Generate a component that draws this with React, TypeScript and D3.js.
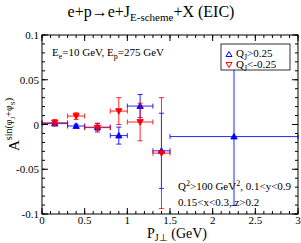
import React from "react";
import * as d3 from "d3";

const binCenter = [0.15, 0.4, 0.65, 0.9, 1.15, 1.4, 2.25];
const binLo = [0, 0.3, 0.5, 0.8, 1.0, 1.3, 1.5];
const binHi = [0.3, 0.5, 0.8, 1.0, 1.3, 1.5, 3.0];
const blueY = [0.001, -0.0017, -0.003, -0.0124, 0.0206, -0.0294, -0.0135];
const blueErr = [0.002, 0.002, 0.004, 0.0095, 0.013, 0.042, 0.077];
const redY = [0.002, 0.0094, -0.0035, 0.015, 0.0028, -0.032];
const redErr = [0.0035, 0.0037, 0.005, 0.015, 0.021, 0.062];
const xTickLabels = ["0", "0.5", "1", "1.5", "2", "2.5", "3"];
const yTickValues = [0.1, 0.05, 0, -0.05, -0.1];
const yTickLabels = ["0.1", "0.05", "0", "-0.05", "-0.1"];

const W = 301, H = 243;
const L = 42, R = 298, T = 35, B = 214;
const FONT = "'Liberation Serif', 'Times New Roman', serif";

export default function App() {
  const x = d3.scaleLinear().domain([0, 3]).range([L, R]);
  const y = d3.scaleLinear().domain([-0.1, 0.1]).range([B, T]);
  const xMinor = d3.range(0, 3.0001, 0.1);
  const xMajor = d3.range(0, 3.0001, 0.5);
  const yMinor = d3.range(-0.1, 0.10001, 0.01);
  const yMajorVals = d3.range(-0.1, 0.10001, 0.05);
  const maj = 6, mnr = 3;
  const cap = 2.5;

  const series = (vals: number[], errs: number[], color: string, up: boolean) =>
    vals.map((v, i) => {
      const cx = x(binCenter[i]);
      const cy = y(v);
      const x0 = x(binLo[i]);
      const x1 = x(binHi[i]);
      const y0 = y(v - errs[i]);
      const y1 = y(v + errs[i]);
      const s = 3.2;
      const tri = up
        ? `M${cx},${cy - s} L${cx + s},${cy + s * 0.75} L${cx - s},${cy + s * 0.75}Z`
        : `M${cx},${cy + s} L${cx + s},${cy - s * 0.75} L${cx - s},${cy - s * 0.75}Z`;
      return (
        <g key={color + i} stroke={color} strokeWidth={1} fill="none" strokeOpacity={0.85}>
          <line x1={x0} x2={x1} y1={cy} y2={cy} />
          <line x1={x0} x2={x0} y1={cy - cap} y2={cy + cap} />
          <line x1={x1} x2={x1} y1={cy - cap} y2={cy + cap} />
          <line x1={cx} x2={cx} y1={y0} y2={y1} />
          <line x1={cx - cap} x2={cx + cap} y1={y0} y2={y0} />
          <line x1={cx - cap} x2={cx + cap} y1={y1} y2={y1} />
          <path d={tri} fill={color} />
        </g>
      );
    });

  return (
    <svg width={W} height={H} style={{ position: "absolute", left: 0, top: 0, background: "#fff" }}
      fontFamily={FONT}>
      <rect x={0} y={0} width={W} height={H} fill="#fff" />
      {/* Title */}
      <text x={151} y={17} textAnchor="middle" fontSize={16}>
        e+p→e+J<tspan fontSize={11} dy={4}>E-scheme</tspan><tspan dy={-4}>+X (EIC)</tspan>
      </text>

      {/* data */}
      {series(blueY, blueErr, "#0000ff", true)}
      {series(redY, redErr, "#ff0000", false)}

      {/* frame */}
      <rect x={L} y={T} width={R - L} height={B - T} fill="none" stroke="#000" strokeWidth={1} />
      {xMinor.map((v, i) => (
        <g key={"xm" + i} stroke="#000">
          <line x1={x(v)} x2={x(v)} y1={B} y2={B - mnr} />
          <line x1={x(v)} x2={x(v)} y1={T} y2={T + mnr} />
        </g>
      ))}
      {xMajor.map((v, i) => (
        <g key={"xM" + i} stroke="#000">
          <line x1={x(v)} x2={x(v)} y1={B} y2={B - maj} />
          <line x1={x(v)} x2={x(v)} y1={T} y2={T + maj} />
        </g>
      ))}
      {yMinor.map((v, i) => (
        <g key={"ym" + i} stroke="#000">
          <line x1={L} x2={L + mnr} y1={y(v)} y2={y(v)} />
          <line x1={R} x2={R - mnr} y1={y(v)} y2={y(v)} />
        </g>
      ))}
      {yMajorVals.map((v, i) => (
        <g key={"yM" + i} stroke="#000">
          <line x1={L} x2={L + maj} y1={y(v)} y2={y(v)} />
          <line x1={R} x2={R - maj} y1={y(v)} y2={y(v)} />
        </g>
      ))}
      {xTickLabels.map((t, i) => (
        <text key={"xl" + i} x={x(xMajor[i])} y={B + 10} textAnchor="middle" fontSize={11}>{t}</text>
      ))}
      {yTickValues.map((v, i) => (
        <text key={"yl" + i} x={L - 3} y={y(v) + 4} textAnchor="end" fontSize={11}>{yTickLabels[i]}</text>
      ))}

      {/* axis labels */}
      <text x={177} y={238} textAnchor="middle" fontSize={14}>
        P<tspan fontSize={10} dy={3}>J⊥</tspan><tspan dy={-3}> (GeV)</tspan>
      </text>
      <g transform={`translate(19,${y(0)}) rotate(-90)`}>
        <text x={0} y={0} textAnchor="middle" fontSize={15}>
          A<tspan fontSize={10} dy={-7}>sin(φ</tspan><tspan fontSize={7} dy={3}>J</tspan><tspan fontSize={10} dy={-3}>+φ</tspan><tspan fontSize={7} dy={3}>S</tspan><tspan fontSize={10} dy={-3}>)</tspan>
        </text>
      </g>

      {/* annotations */}
      <text x={52} y={56} fontSize={11}>
        E<tspan fontSize={8} dy={3}>e</tspan><tspan dy={-3}>=10 GeV, E</tspan><tspan fontSize={8} dy={3}>p</tspan><tspan dy={-3}>=275 GeV</tspan>
      </text>
      <text x={178} y={190} fontSize={11}>
        Q<tspan fontSize={8} dy={-4}>2</tspan><tspan dy={4}>&gt;100 GeV</tspan><tspan fontSize={8} dy={-4}>2</tspan><tspan dy={4}>, 0.1&lt;y&lt;0.9</tspan>
      </text>
      <text x={178} y={206} fontSize={11}>0.15&lt;x&lt;0.3, z&gt;0.2</text>

      {/* legend */}
      <rect x={221} y={44} width={69} height={26} fill="#fff" stroke="#000" strokeWidth={0.8} />
      <path d="M229,51.5 L232,56.5 L226,56.5Z" fill="none" stroke="#0000ff" />
      <text x={236} y={57} fontSize={11}>
        Q<tspan fontSize={8} dy={3}>J</tspan><tspan dy={-3}>&gt;0.25</tspan>
      </text>
      <path d="M229,67.5 L232,62.5 L226,62.5Z" fill="none" stroke="#ff0000" />
      <text x={236} y={68} fontSize={11}>
        Q<tspan fontSize={8} dy={3}>J</tspan><tspan dy={-3}>&lt;-0.25</tspan>
      </text>
    </svg>
  );
}
